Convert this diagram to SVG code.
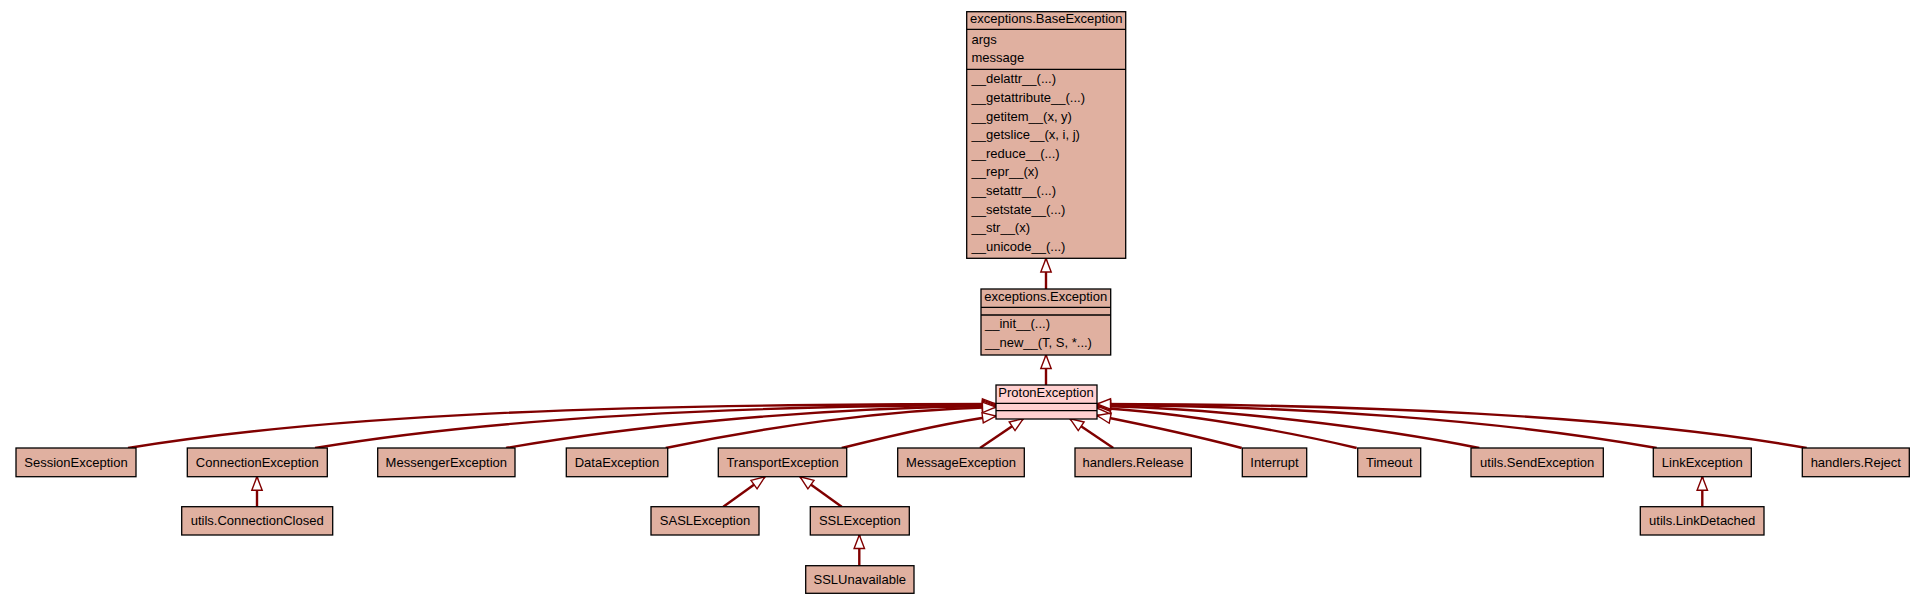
<svg xmlns="http://www.w3.org/2000/svg" width="1925" height="605" viewBox="0 0 1925 605">
<style>
text{font-family:"Liberation Sans",Arial,sans-serif;font-size:13px;fill:#000}
.c{text-anchor:middle}
.box{fill:#e0b0a0;stroke:#000;stroke-width:1.3}
.sel{fill:#ffd0d0;stroke:#000;stroke-width:1.3}
.div{stroke:#000;stroke-width:1.3}
.e{fill:none;stroke:#800000;stroke-width:2.4;marker-end:url(#tri)}
</style>
<defs>
<marker id="tri" markerUnits="userSpaceOnUse" markerWidth="18" markerHeight="14" refX="15" refY="7" orient="auto" viewBox="0 0 18 14">
<path d="M1.5,1.8 L15,7 L1.5,12.2 Z" fill="#fff" stroke="#800000" stroke-width="1.4"/>
</marker>
</defs>
<rect width="1925" height="605" fill="#fff"/>
<g id="connectors">
<path class="e" d="M1046,289 L1046,258.5"/>
<path class="e" d="M1046,385 L1046,355"/>
<path class="e" d="M128,448 C330,415 600,404 996,404"/>
<path class="e" d="M315,448 C470,422 700,406 996,405"/>
<path class="e" d="M506,448 C620,428 800,408 996,406"/>
<path class="e" d="M665.7,448 C760,428 880,410 996,407"/>
<path class="e" d="M841.7,448 C890,436 950,422 996,416"/>
<path class="e" d="M980,448 L1023.3,418.7"/>
<path class="e" d="M1113.3,448 L1070,418.7"/>
<path class="e" d="M1241.7,448 C1200,437 1140,424 1097,415.5"/>
<path class="e" d="M1356.7,448 C1290,432 1180,412 1097,408"/>
<path class="e" d="M1479.3,448 C1380,428 1220,408 1097,406"/>
<path class="e" d="M1656.7,448 C1500,420 1300,406 1097,405"/>
<path class="e" d="M1806.7,448 C1620,415 1350,404 1097,404"/>
<path class="e" d="M257,506.7 L257,476.7"/>
<path class="e" d="M723.3,506.7 L765,476.7"/>
<path class="e" d="M841.7,506.7 L800,476.7"/>
<path class="e" d="M859.3,565.7 L859.3,535"/>
<path class="e" d="M1702.3,506.7 L1702.3,476.7"/>
</g>
<g id="BaseException">
<rect class="box" x="966.7" y="11.7" width="159" height="246.6"/>
<line class="div" x1="966.7" y1="29.3" x2="1125.7" y2="29.3"/>
<line class="div" x1="966.7" y1="69.3" x2="1125.7" y2="69.3"/>
<text x="970" y="23.3">exceptions.BaseException</text>
<text x="971.5" y="43.5">args</text>
<text x="971.5" y="61.5">message</text>
<text x="971.5" y="83.3">__delattr__(...)</text>
<text x="971.5" y="101.9">__getattribute__(...)</text>
<text x="971.5" y="120.5">__getitem__(x, y)</text>
<text x="971.5" y="139.1">__getslice__(x, i, j)</text>
<text x="971.5" y="157.7">__reduce__(...)</text>
<text x="971.5" y="176.3">__repr__(x)</text>
<text x="971.5" y="194.9">__setattr__(...)</text>
<text x="971.5" y="213.5">__setstate__(...)</text>
<text x="971.5" y="232.1">__str__(x)</text>
<text x="971.5" y="250.7">__unicode__(...)</text>
</g>
<g id="Exception">
<rect class="box" x="981" y="289" width="129.7" height="66"/>
<line class="div" x1="981" y1="307.3" x2="1110.7" y2="307.3"/>
<line class="div" x1="981" y1="315" x2="1110.7" y2="315"/>
<text x="984.3" y="300.7">exceptions.Exception</text>
<text x="985" y="327.5">__init__(...)</text>
<text x="985" y="346.5">__new__(T, S, *...)</text>
</g>
<g id="ProtonException">
<rect class="sel" x="996" y="385" width="101" height="34"/>
<line class="div" x1="996" y1="403.3" x2="1097" y2="403.3"/>
<line class="div" x1="996" y1="410.7" x2="1097" y2="410.7"/>
<text x="998.3" y="397">ProtonException</text>
</g>
<g id="SessionException"><rect class="box" x="16" y="448" width="120" height="28.7"/><text class="c" x="76" y="466.5">SessionException</text></g>
<g id="ConnectionException"><rect class="box" x="187.3" y="448" width="140" height="28.7"/><text class="c" x="257.3" y="466.5">ConnectionException</text></g>
<g id="MessengerException"><rect class="box" x="377.7" y="448" width="137.3" height="28.7"/><text class="c" x="446.3" y="466.5">MessengerException</text></g>
<g id="DataException"><rect class="box" x="566.3" y="448" width="101.4" height="28.7"/><text class="c" x="617" y="466.5">DataException</text></g>
<g id="TransportException"><rect class="box" x="718.3" y="448" width="128.4" height="28.7"/><text class="c" x="782.5" y="466.5">TransportException</text></g>
<g id="MessageException"><rect class="box" x="897.7" y="448" width="126.6" height="28.7"/><text class="c" x="961" y="466.5">MessageException</text></g>
<g id="handlers.Release"><rect class="box" x="1075" y="448" width="116.3" height="28.7"/><text class="c" x="1133.2" y="466.5">handlers.Release</text></g>
<g id="Interrupt"><rect class="box" x="1242.3" y="448" width="64.4" height="28.7"/><text class="c" x="1274.5" y="466.5">Interrupt</text></g>
<g id="Timeout"><rect class="box" x="1357.7" y="448" width="63" height="28.7"/><text class="c" x="1389.2" y="466.5">Timeout</text></g>
<g id="utils.SendException"><rect class="box" x="1471" y="448" width="132.3" height="28.7"/><text class="c" x="1537.2" y="466.5">utils.SendException</text></g>
<g id="LinkException"><rect class="box" x="1653.3" y="448" width="98" height="28.7"/><text class="c" x="1702.3" y="466.5">LinkException</text></g>
<g id="handlers.Reject"><rect class="box" x="1802.3" y="448" width="107" height="28.7"/><text class="c" x="1855.8" y="466.5">handlers.Reject</text></g>
<g id="utils.ConnectionClosed"><rect class="box" x="181.7" y="506.7" width="151" height="28.3"/><text class="c" x="257.2" y="525">utils.ConnectionClosed</text></g>
<g id="SASLException"><rect class="box" x="651" y="506.7" width="108" height="28.3"/><text class="c" x="705" y="525">SASLException</text></g>
<g id="SSLException"><rect class="box" x="810.3" y="506.7" width="99" height="28.3"/><text class="c" x="859.8" y="525">SSLException</text></g>
<g id="utils.LinkDetached"><rect class="box" x="1640.3" y="506.7" width="123.7" height="28.3"/><text class="c" x="1702.2" y="525">utils.LinkDetached</text></g>
<g id="SSLUnavailable"><rect class="box" x="805.7" y="565.7" width="108.3" height="27.6"/><text class="c" x="859.8" y="584">SSLUnavailable</text></g>
</svg>
